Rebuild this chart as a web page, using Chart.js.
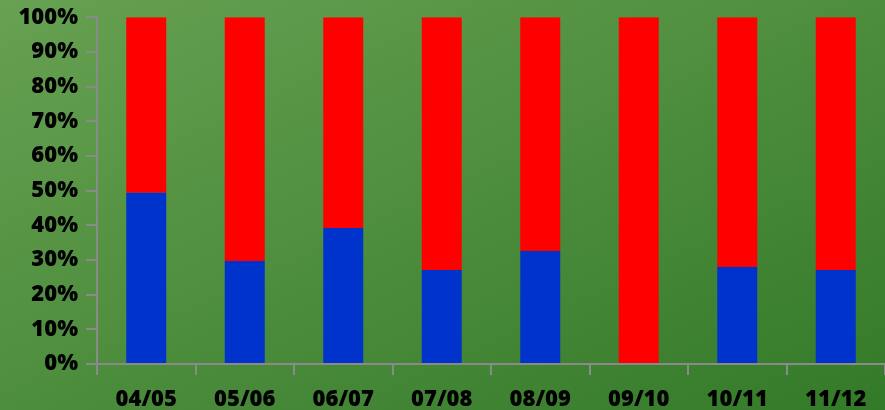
<!DOCTYPE html>
<html>
<head>
<meta charset="utf-8">
<script src="https://cdn.jsdelivr.net/npm/chart.js@4/dist/chart.umd.min.js"></script>
<style>
  html, body { margin: 0; padding: 0; }
  #wrap {
    width: 885px; height: 410px;
    background: linear-gradient(to bottom right, #67a152, #337a28);
  }
</style>
</head>
<body>
<div id="wrap"><canvas id="chart" width="885" height="410"></canvas></div>
<script>
// seasons on the x axis
const SEASONS = ['04/05', '05/06', '06/07', '07/08', '08/09', '09/10', '10/11', '11/12'];

// percentage share per season
const BLUE_SHARE = [49.4, 29.7, 39.2, 27.1, 32.6, 0, 28.0, 27.1];
const RED_SHARE  = [50.6, 70.3, 60.8, 72.9, 67.4, 100, 72.0, 72.9];

const Y_TICKS = [0, 10, 20, 30, 40, 50, 60, 70, 80, 90, 100];

const AXIS_GREY = '#8a8a8a';
const FONT_X    = { family: '"Open Sans", Lato, sans-serif', size: 22, weight: '800', lineHeight: 1 };
const FONT_Y    = { family: '"Open Sans", Lato, sans-serif', size: 22, weight: '800', lineHeight: 0.85 };

new Chart(document.getElementById('chart'), {
  type: 'bar',
  data: {
    labels: SEASONS,
    datasets: [
      {
        label:           'blue',
        data:            BLUE_SHARE,
        backgroundColor: '#0033cc',
        borderWidth:     0,
        barPercentage:   0.406,
        categoryPercentage: 1,
      },
      {
        label:           'red',
        data:            RED_SHARE,
        backgroundColor: '#ff0000',
        borderWidth:     0,
        barPercentage:   0.406,
        categoryPercentage: 1,
      },
    ],
  },
  options: {
    responsive: false,
    animation:  false,
    layout: { padding: 0 },
    plugins: {
      legend:  { display: false },
      tooltip: { enabled: false },
    },
    scales: {
      x: {
        stacked: true,
        border: { color: AXIS_GREY, width: 2 },
        grid: {
          drawOnChartArea: false,
          drawTicks:       true,
          tickLength:      11,
          color:           AXIS_GREY,
          lineWidth:       2,
        },
        ticks: { color: '#000', font: FONT_X, padding: 14, maxRotation: 0 },
        afterFit: s => { s.height = 46; },
      },
      y: {
        stacked: true,
        min: 0,
        max: 100,
        afterBuildTicks: s => { s.ticks = Y_TICKS.map(v => ({ value: v })); },
        border: { color: AXIS_GREY, width: 2 },
        grid: {
          drawOnChartArea: false,
          drawTicks:       true,
          tickLength:      11,
          color:           AXIS_GREY,
          lineWidth:       2,
        },
        ticks: { color: '#000', font: FONT_Y, padding: 8, callback: v => `${v}%` },
        afterFit: s => { s.width = 97; },
      },
    },
  },
});
</script>
</body>
</html>
